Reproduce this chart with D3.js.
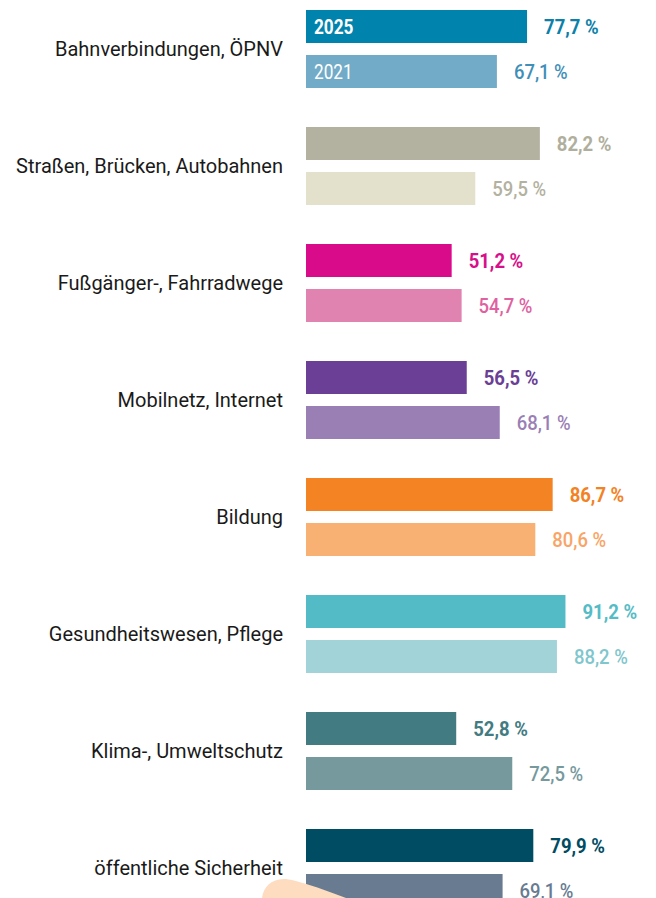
<!DOCTYPE html>
<html lang="de">
<head>
    <meta charset="UTF-8">
    <title>Infrastruktur</title>
    <style>
        body { margin: 0; background: #fff; }
        svg { display: block; }
        .cat { font-family: Roboto, "DejaVu Sans Condensed", sans-serif; font-size: 20px; fill: #1a1a1a; }
        .val { font-family: Roboto, "DejaVu Sans Condensed", sans-serif; font-size: 21px; }
    </style>
</head>
<body>
    <svg width="656" height="898"></svg>
    <script src="https://d3js.org/d3.v7.min.js"></script>
    <script>
        var categories = ["Bahnverbindungen, ÖPNV", "Straßen, Brücken, Autobahnen", "Fußgänger-, Fahrradwege",
            "Mobilnetz, Internet", "Bildung", "Gesundheitswesen, Pflege", "Klima-, Umweltschutz", "öffentliche Sicherheit"];
        var years = ["2025", "2021"];
        var values2025 = [77.7, 82.2, 51.2, 56.5, 86.7, 91.2, 52.8, 79.9];
        var values2021 = [67.1, 59.5, 54.7, 68.1, 80.6, 88.2, 72.5, 69.1];
        var barColors2025 = ["#0083ad", "#b3b19f", "#da0b8b", "#6a3f95", "#f38323", "#52bbc5", "#427b81", "#004c63"];
        var barColors2021 = ["#72abc8", "#e3e0cc", "#e083b0", "#9a7fb5", "#f9b073", "#a1d3d8", "#76999e", "#687b91"];
        var textColors2025 = ["#0c80a8", "#b0ae9c", "#d80f8a", "#6a3f95", "#f28223", "#55bcc6", "#427b81", "#004c63"];
        var textColors2021 = ["#3f8fb8", "#b3b19f", "#e0619f", "#9a7fb5", "#f9a466", "#7fc6cd", "#76999e", "#687b91"];

        var svg = d3.select("svg");
        var squeeze = 0.88;   // condensed look for the numbers

        var rows = categories.map(function(c, i) {
            return {cat: c, i: i, bars: [
                {year: "2025", value: values2025[i], fill: barColors2025[i], text: textColors2025[i], first: i === 0},
                {year: "2021", value: values2021[i], fill: barColors2021[i], text: textColors2021[i], first: i === 0}
            ]};
        });

        var y = d3.scaleBand()
            .domain(categories)
            .range([10, 10 + categories.length * 117])
            .padding(0);

        var yInner = d3.scaleBand()
            .domain(years)
            .range([0, 78])
            .paddingInner(0.2667)
            .paddingOuter(0);

        var x = d3.scaleLinear()
            .domain([0, 100])
            .range([306, 306 + 284.5]);

        var group = svg.append("g")
            .selectAll("g")
            .data(rows)
            .enter().append("g")
            .attr("transform", function(d) { return "translate(0," + y(d.cat) + ")"; });

        group.append("text")
            .attr("class", "cat")
            .attr("x", 283)
            .attr("y", 39)
            .attr("dy", "0.35em")
            .attr("text-anchor", "end")
            .text(function(d) { return d.cat; });

        var bar = group.selectAll("g.bar")
            .data(function(d) { return d.bars; })
            .enter().append("g")
            .attr("class", "bar")
            .attr("transform", function(d) { return "translate(0," + yInner(d.year) + ")"; });

        bar.append("rect")
            .attr("x", x(0))
            .attr("width", function(d) { return x(d.value) - x(0); })
            .attr("height", yInner.bandwidth())
            .attr("fill", function(d) { return d.fill; });

        bar.append("text")
            .attr("class", "val")
            .attr("transform", function(d) {
                return "translate(" + (x(d.value) + 17) + "," + (yInner.bandwidth() / 2) + ") scale(" + squeeze + ",1)";
            })
            .attr("dy", "0.36em")
            .attr("fill", function(d) { return d.text; })
            .attr("font-weight", function(d) { return d.year === "2025" ? 700 : 500; })
            .text(function(d) { return d3.format(".1f")(d.value).replace(".", ",") + " %"; });

        // year tags inside the first pair of bars
        bar.filter(function(d) { return d.first; })
            .append("text")
            .attr("class", "val")
            .attr("transform", "translate(" + (x(0) + 8) + "," + (yInner.bandwidth() / 2) + ") scale(0.82,1)")
            .attr("dy", "0.36em")
            .attr("fill", "#fff")
            .attr("font-weight", function(d) { return d.year === "2025" ? 700 : 400; })
            .text(function(d) { return d.year; });

        // peach decoration at the bottom edge
        svg.append("path")
            .attr("d", "M262,898 C263,887 272,878 286,879 C300,881 325,890 346,898 Z")
            .attr("fill", "#fddcc0");
    </script>
</body>
</html>
